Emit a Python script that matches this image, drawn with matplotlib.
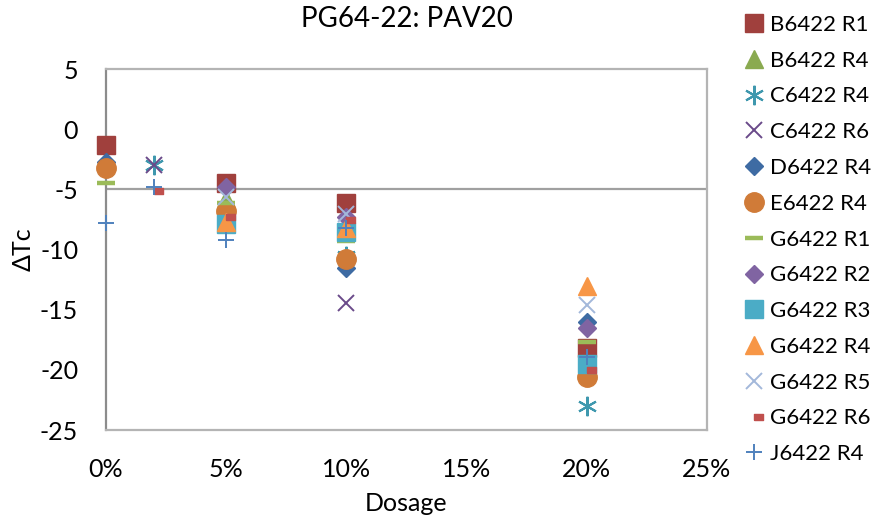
import numpy as np
import matplotlib
matplotlib.use("Agg")
import matplotlib.pyplot as plt
from matplotlib.ticker import PercentFormatter

plt.rcParams['font.family'] = ['Lato', 'DejaVu Sans']
plt.rcParams['axes.unicode_minus'] = False

# series data: dosage (fraction) and delta Tc
names = ["B6422 R1", "B6422 R4", "C6422 R4", "C6422 R6", "D6422 R4", "E6422 R4",
         "G6422 R1", "G6422 R2", "G6422 R3", "G6422 R4", "G6422 R5", "G6422 R6",
         "J6422 R4"]
dosage = [
    [0.00, 0.05, 0.10, 0.20],
    [0.05],
    [0.02, 0.10, 0.20],
    [0.02, 0.10],
    [0.00, 0.10, 0.20],
    [0.00, 0.05, 0.10, 0.20],
    [0.00, 0.05, 0.10, 0.20],
    [0.05, 0.10, 0.20],
    [0.05, 0.10, 0.20],
    [0.05, 0.10, 0.20],
    [0.05, 0.10, 0.20],
    [0.02, 0.05, 0.10, 0.20],
    [0.00, 0.02, 0.05, 0.10, 0.20],
]
dtc = [
    [-1.3, -4.5, -6.1, -18.2],
    [-5.8],
    [-3.0, -10.5, -23.0],
    [-3.0, -14.4],
    [-2.7, -11.5, -16.0],
    [-3.2, -6.8, -10.8, -20.6],
    [-4.5, -6.1, -9.3, -17.7],
    [-4.8, -7.3, -16.5],
    [-7.9, -8.5, -19.5],
    [-7.7, -8.2, -13.0],
    [-5.6, -7.0, -14.6],
    [-5.1, -7.3, -7.5, -20.0],
    [-7.8, -4.8, -9.2, -8.2, -18.9],
]

# short dash drawn to the right of the point (Excel style)
red_dash = [(0, -0.28), (1, -0.28), (1, 0.28), (0, 0.28), (0, -0.28)]
asterisk = (6, 2, 0)

styles = [
    dict(marker='s', ms=13, color='#A0403D'),
    dict(marker='^', ms=13, color='#8AAA50'),
    dict(marker=asterisk, ms=14, color='#3F98AE', mew=1.5),
    dict(marker='x', ms=11, color='#6A4A8A', mew=1.4),
    dict(marker='D', ms=9.5, color='#3E6BA3'),
    dict(marker='o', ms=14, color='#D07B38'),
    dict(marker='_', ms=13, color='#9BBB59', mew=3.2),
    dict(marker='D', ms=9.5, color='#8064A2'),
    dict(marker='s', ms=13, color='#4BACC6'),
    dict(marker='^', ms=13, color='#F79646'),
    dict(marker='x', ms=11, color='#A3B8DA', mew=1.4),
    dict(marker=red_dash, ms=13, color='#C0504D'),
    dict(marker='+', ms=12, color='#4F81BD', mew=1.4),
]

fig = plt.figure(figsize=(8.76, 5.2), dpi=100)
ax = fig.add_axes([0.121, 0.173, 0.686, 0.694])

ax.axhline(-5, color='#A0A0A0', lw=1.6, zorder=1)
for name, x, y, st in zip(names, dosage, dtc, styles):
    ax.plot(x, y, linestyle='none', marker=st['marker'], markersize=st['ms'],
            color=st['color'], markeredgewidth=st.get('mew', 1.0),
            label=name, zorder=3, clip_on=False)

ax.set_xlim(0, 0.25)
ax.set_ylim(-25, 5)
ax.set_xticks(np.arange(0, 0.26, 0.05))
ax.set_yticks(np.arange(-25, 6, 5))
ax.xaxis.set_major_formatter(PercentFormatter(1, decimals=0))
ax.tick_params(length=0, labelsize=18)
ax.tick_params(axis='x', pad=20)
ax.tick_params(axis='y', pad=20)
for side in ['top', 'right', 'bottom']:
    ax.spines[side].set_color('#B4B4B4')
    ax.spines[side].set_linewidth(1.6)
ax.spines['left'].set_color('#8C8C8C')
ax.spines['left'].set_linewidth(1.6)

ax.set_title('PG64-22: PAV20', fontsize=20, pad=30)
ax.set_xlabel('Dosage', fontsize=18, labelpad=8)
ax.set_ylabel('ΔTc', fontsize=18, labelpad=4)

ax.legend(loc='upper left', bbox_to_anchor=(1.045, 1.175), frameon=False,
          fontsize=16, handlelength=1.0, handletextpad=0.2,
          labelspacing=0.71, borderaxespad=0, markerscale=1.0)

fig.savefig('out.png', dpi=100)
